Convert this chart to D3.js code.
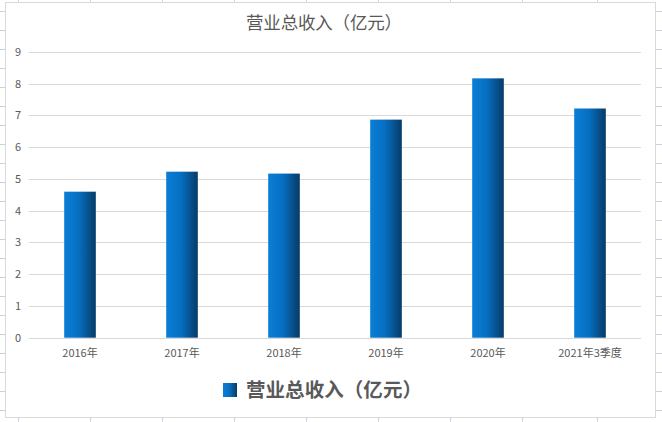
<!DOCTYPE html>
<html><head><meta charset="utf-8">
<script src="https://cdn.jsdelivr.net/npm/d3@7"></script>
<style>body{margin:0;background:#fff;}svg{display:block;}</style>
</head><body>
<svg id="c" width="662" height="422"></svg>
<script>
const categories = ["2016年","2017年","2018年","2019年","2020年","2021年3季度"];
const values = [4.6, 5.23, 5.17, 6.87, 8.17, 7.22];
const yTicks = [0,1,2,3,4,5,6,7,8,9];
const title = "营业总收入（亿元）";
const seriesName = "营业总收入（亿元）";
const sheetColEdges = [18, 90, 162, 234, 306, 378, 450, 522, 597];

const svg = d3.select("#c");
const W = 662, H = 422;
const font = "'Noto Sans CJK SC','Microsoft YaHei',sans-serif";
const txt = "#595959";

// spreadsheet gridlines peeking around chart
const sheetRows = d3.range(0, 22).map(i => 10.5 + i * 19.02);
const sg = svg.append("g").attr("stroke", "#cdd0dc").attr("stroke-width", 1);
sg.selectAll(".tc").data(sheetColEdges).join("line")
  .attr("x1", d => d + 0.5).attr("x2", d => d + 0.5).attr("y1", 0).attr("y2", 3);
sg.selectAll(".bc").data(sheetColEdges).join("line")
  .attr("x1", d => d + 0.5).attr("x2", d => d + 0.5).attr("y1", 418).attr("y2", H);
sg.selectAll(".lr").data(sheetRows).join("line")
  .attr("x1", 0).attr("x2", 5).attr("y1", d => Math.round(d) + 0.5).attr("y2", d => Math.round(d) + 0.5);
sg.selectAll(".rr").data(sheetRows).join("line")
  .attr("x1", 656).attr("x2", W).attr("y1", d => Math.round(d) + 0.5).attr("y2", d => Math.round(d) + 0.5);

// chart frame
svg.append("rect").attr("x", 5.5).attr("y", 2.5).attr("width", 650).attr("height", 415)
  .attr("fill", "#fff").attr("stroke", "#d9d9d9");

const defs = svg.append("defs");
const grad = defs.append("linearGradient").attr("id", "bg").attr("x1", "0").attr("x2", "1").attr("y1", "0").attr("y2", "0");
grad.append("stop").attr("offset", "0%").attr("stop-color", "#0a7ed6");
grad.append("stop").attr("offset", "45%").attr("stop-color", "#0670c2");
grad.append("stop").attr("offset", "100%").attr("stop-color", "#073b68");

const x = d3.scaleBand().domain(categories).range([29, 641]).paddingInner(0.69).paddingOuter(0.345);
const y = d3.scaleLinear().domain([0, 9]).range([337.7, 52]);

// gridlines
svg.append("g").selectAll("line").data(yTicks).join("line")
  .attr("x1", 29).attr("x2", 641)
  .attr("y1", d => Math.round(y(d)) + 0.5).attr("y2", d => Math.round(y(d)) + 0.5)
  .attr("stroke", "#d9d9d9").attr("stroke-width", 1);

// y labels
svg.append("g").selectAll("text").data(yTicks).join("text")
  .attr("x", 21).attr("y", d => y(d)).attr("dy", "0.35em").attr("text-anchor", "end")
  .attr("font-family", font).attr("font-size", 11).attr("fill", txt).text(d => d);

// bars
svg.append("g").selectAll("rect").data(values).join("rect")
  .attr("x", (d, i) => x(categories[i])).attr("width", x.bandwidth())
  .attr("y", d => y(d)).attr("height", d => y(0) - y(d))
  .attr("fill", "url(#bg)");

// x labels
const xc = d3.scaleBand().domain(categories).range([29, 641]);
svg.append("g").selectAll("text").data(categories).join("text")
  .attr("x", d => xc(d) + xc.bandwidth() / 2).attr("y", 357)
  .attr("text-anchor", "middle")
  .attr("font-family", font).attr("font-size", 11).attr("fill", txt).text(d => d);

// title
svg.append("text").attr("x", 246).attr("y", 29)
  .attr("textLength", 156).attr("lengthAdjust", "spacing")
  .attr("font-family", font).attr("font-size", 17.5).attr("fill", txt).text(title);

// legend
const lg = svg.append("g");
lg.append("rect").attr("x", 223).attr("y", 383).attr("width", 14).attr("height", 14).attr("fill", "url(#bg)");
lg.append("text").attr("x", 246).attr("y", 397)
  .attr("textLength", 176).attr("lengthAdjust", "spacing")
  .attr("font-family", font).attr("font-size", 19.5)
  .attr("font-weight", "bold").attr("fill", txt).text(seriesName);
</script>
</body></html>
